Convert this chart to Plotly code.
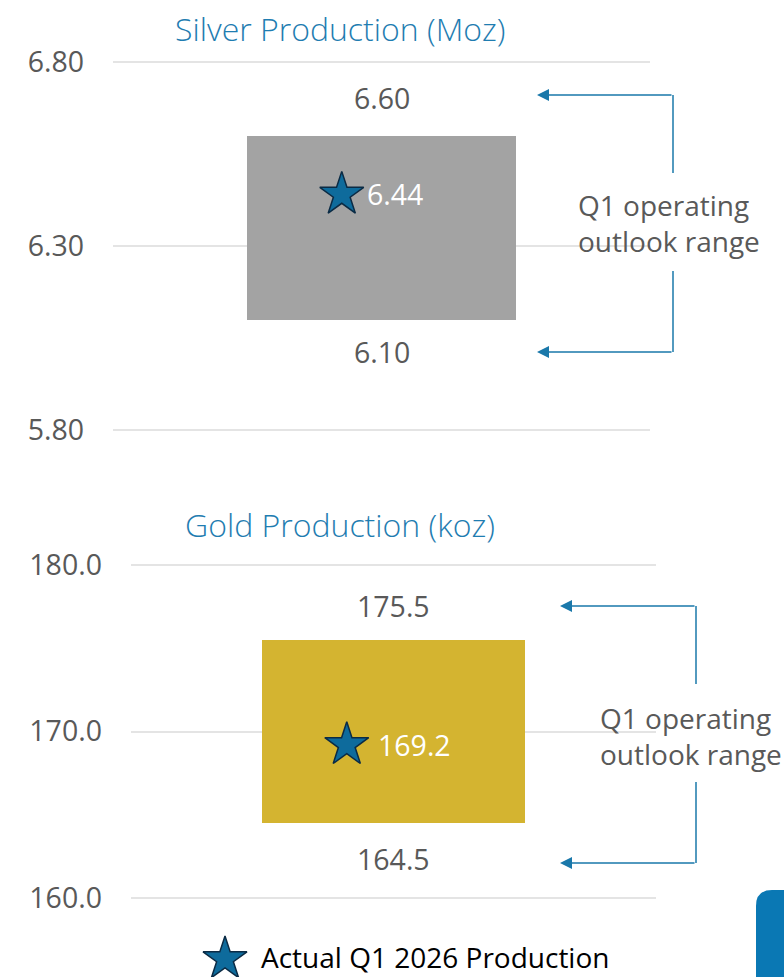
import plotly.graph_objects as go

# 데이터
metals = ["Silver Production (Moz)", "Gold Production (koz)"]
outlook_low = [6.10, 164.5]
outlook_high = [6.60, 175.5]
actual = [6.44, 169.2]
actual_labels = ["6.44", "169.2"]
low_labels = ["6.10", "164.5"]
high_labels = ["6.60", "175.5"]
tick_values = [[5.80, 6.30, 6.80], [160.0, 170.0, 180.0]]
tick_labels = [["5.80", "6.30", "6.80"], ["160.0", "170.0", "180.0"]]
axis_ranges = [[5.80, 6.80], [160.0, 180.0]]
bar_colors = ["#A3A3A3", "#D4B430"]
legend_text = "Actual Q1 2026 Production"
range_text = "Q1 operating<br>outlook range"

W, H = 784, 977
FONT = "Open Sans"
FS = 28.5
GRAY = "#595959"
BLUE = "#1F7DB1"
STAR_FILL = "#0E6B9C"
STAR_LINE = "#0B2B45"
ARROW = "#1A78AA"
PAD = 4  # 경계 격자선이 잘리지 않도록 여유 픽셀


def px(x):
    return x / W


def py(y):
    return 1 - y / H


# 패널 배치 (참조 이미지 픽셀 기준)
panels = [
    dict(x0=113, x1=650, ytop=62, ybot=430, star_x=0.426, label_dx=23,
         hi_dy=38, lo_dy=-32, title_y=29,
         arrow_x=673, tip_x=537, arr_top=95, arr_bot=352, seg=(173, 271),
         note_x=576, note_y=223),
    dict(x0=131, x1=656, ytop=565, ybot=898, star_x=0.411, label_dx=29,
         hi_dy=34, lo_dy=-36, title_y=524,
         arrow_x=696, tip_x=560, arr_top=606, arr_bot=863, seg=(684, 782),
         note_x=598, note_y=736),
]

fig = go.Figure()
annotations = []
shapes = []

for i, p in enumerate(panels):
    xa = "x" if i == 0 else "x2"
    ya = "y" if i == 0 else "y2"

    # 전망 범위 막대
    fig.add_trace(go.Bar(
        x=[0.5], y=[outlook_high[i] - outlook_low[i]], base=[outlook_low[i]],
        width=0.5, marker=dict(color=bar_colors[i], line=dict(width=0)),
        xaxis=xa, yaxis=ya, showlegend=False, hoverinfo="skip",
    ))

    # 실제 생산량 별
    fig.add_trace(go.Scatter(
        x=[p["star_x"]], y=[actual[i]], mode="markers",
        marker=dict(symbol="star", size=33, color=STAR_FILL,
                    line=dict(color=STAR_LINE, width=1.5)),
        xaxis=xa, yaxis=ya, showlegend=False, hoverinfo="skip",
    ))
    annotations.append(dict(
        x=p["star_x"], y=actual[i], xref=xa, yref=ya, text=actual_labels[i],
        showarrow=False, xanchor="left", yanchor="middle", xshift=p["label_dx"],
        font=dict(family=FONT, size=FS, color="white"),
    ))

    # 범위 상하 라벨
    annotations.append(dict(
        x=0.5, y=outlook_high[i], xref=xa, yref=ya, text=high_labels[i],
        showarrow=False, yanchor="middle", yshift=p["hi_dy"],
        font=dict(family=FONT, size=FS, color=GRAY),
    ))
    annotations.append(dict(
        x=0.5, y=outlook_low[i], xref=xa, yref=ya, text=low_labels[i],
        showarrow=False, yanchor="middle", yshift=p["lo_dy"],
        font=dict(family=FONT, size=FS, color=GRAY),
    ))

    # 제목
    annotations.append(dict(
        x=px(340), y=py(p["title_y"]), xref="paper", yref="paper",
        text=metals[i], showarrow=False, xanchor="center", yanchor="middle",
        font=dict(family=FONT, size=32, color=BLUE, weight=300),
    ))

    # 화살표 및 설명
    for ay in (p["arr_top"], p["arr_bot"]):
        annotations.append(dict(
            x=px(p["tip_x"]), y=py(ay), xref="paper", yref="paper", text="",
            showarrow=True, axref="pixel", ayref="pixel",
            ax=p["arrow_x"] - p["tip_x"], ay=0,
            arrowhead=2, arrowsize=1.6, arrowwidth=1.5, arrowcolor=ARROW,
        ))
    shapes.append(dict(type="line", xref="paper", yref="paper",
                       x0=px(p["arrow_x"]), x1=px(p["arrow_x"]),
                       y0=py(p["arr_top"]), y1=py(p["seg"][0]),
                       line=dict(color=ARROW, width=1.5)))
    shapes.append(dict(type="line", xref="paper", yref="paper",
                       x0=px(p["arrow_x"]), x1=px(p["arrow_x"]),
                       y0=py(p["seg"][1]), y1=py(p["arr_bot"]),
                       line=dict(color=ARROW, width=1.5)))
    annotations.append(dict(
        x=px(p["note_x"]), y=py(p["note_y"]), xref="paper", yref="paper",
        text=range_text, showarrow=False, xanchor="left", yanchor="middle",
        align="left", font=dict(family=FONT, size=28, color=GRAY),
    ))

# 범례 (별 + 텍스트)
fig.add_trace(go.Scatter(
    x=[px(225)], y=[py(959)], mode="markers",
    marker=dict(symbol="star", size=33, color=STAR_FILL,
                line=dict(color=STAR_LINE, width=1.5)),
    xaxis="x3", yaxis="y3", showlegend=False, hoverinfo="skip",
))
annotations.append(dict(
    x=px(259), y=py(957), xref="paper", yref="paper", text=legend_text,
    showarrow=False, xanchor="left", yanchor="middle",
    font=dict(family=FONT, size=28, color="black"),
))

# 오른쪽 아래 로고 조각
shapes.append(dict(
    type="path", xref="paper", yref="paper",
    path=(f"M {px(756)},{py(977)} L {px(756)},{py(906)} "
          f"Q {px(756)},{py(890)} {px(772)},{py(890)} "
          f"L {px(784)},{py(890)} L {px(784)},{py(977)} Z"),
    fillcolor="#0A78B4", line=dict(width=0),
))


def yaxis_cfg(i, p):
    lo, hi = axis_ranges[i]
    unit = (hi - lo) / (p["ybot"] - p["ytop"])
    return dict(
        domain=[py(p["ybot"] + PAD), py(p["ytop"] - PAD)],
        range=[lo - PAD * unit, hi + PAD * unit],
        tickvals=tick_values[i], ticktext=tick_labels[i],
        showgrid=True, gridcolor="#E4E4E4", gridwidth=2,
        zeroline=False, showline=False, ticks="",
        ticklabelstandoff=28, automargin=False,
        tickfont=dict(family=FONT, size=FS, color=GRAY),
        anchor="x" if i == 0 else "x2",
    )


def xaxis_cfg(i, p):
    return dict(
        domain=[px(p["x0"]), px(p["x1"])], range=[0, 1],
        visible=False, automargin=False, anchor="y" if i == 0 else "y2",
    )


fig.update_layout(
    width=W, height=H, autosize=False,
    margin=dict(l=0, r=0, t=0, b=0, pad=0),
    paper_bgcolor="white", plot_bgcolor="rgba(0,0,0,0)",
    xaxis=xaxis_cfg(0, panels[0]), yaxis=yaxis_cfg(0, panels[0]),
    xaxis2=xaxis_cfg(1, panels[1]), yaxis2=yaxis_cfg(1, panels[1]),
    xaxis3=dict(domain=[0, 1], range=[0, 1], visible=False, anchor="y3",
                automargin=False),
    yaxis3=dict(domain=[0, 1], range=[0, 1], visible=False, anchor="x3",
                automargin=False),
    annotations=annotations, shapes=shapes,
    bargap=0, showlegend=False,
)

# 페이지 기본 여백 제거 (그림이 창에 꼭 맞도록)
fig.write_html("out.html", config={"displayModeBar": False},
               post_script="document.body.style.margin = '0';")
